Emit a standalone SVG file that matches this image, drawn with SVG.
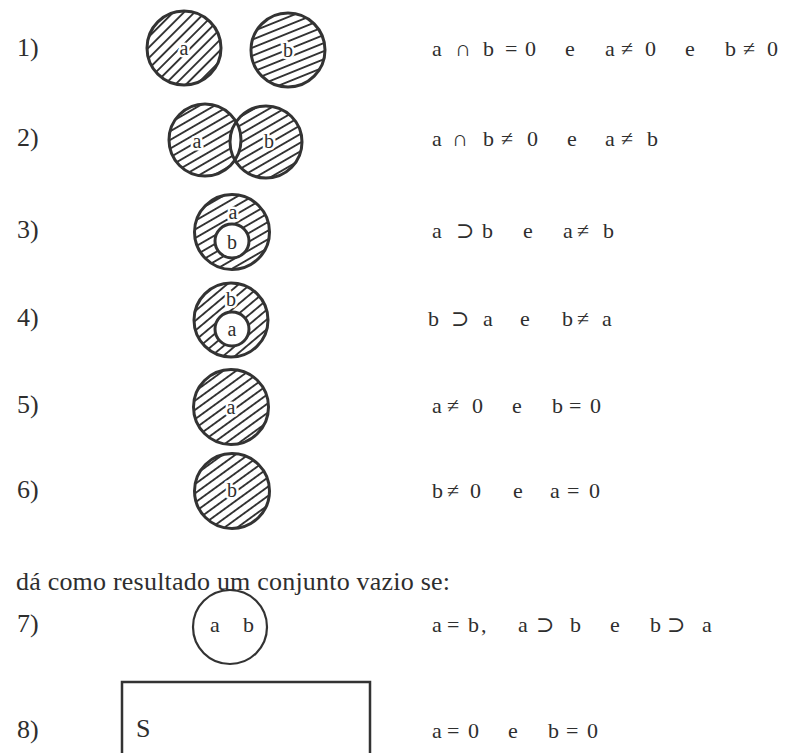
<svg xmlns="http://www.w3.org/2000/svg" width="787" height="753" viewBox="0 0 787 753">
<style>
text{font-family:"Liberation Serif","DejaVu Serif",serif;fill:#2e2e2e}
.lbl{font-size:26px}
.f{font-size:22px}
.in{font-size:20px;text-anchor:middle;stroke:#fff;stroke-width:5;paint-order:stroke;stroke-linejoin:round}
.c{stroke:#333;stroke-width:3}
.o{fill:none;stroke:#333;stroke-width:3}
</style>
<defs>
<pattern id="h45" width="7.5" height="7.5" patternUnits="userSpaceOnUse" patternTransform="rotate(-45)"><rect y="2.8" width="7.5" height="1.9" fill="#333"/></pattern>
<pattern id="h22" width="7.5" height="7.5" patternUnits="userSpaceOnUse" patternTransform="rotate(-22)"><rect y="2.8" width="7.5" height="1.9" fill="#333"/></pattern>
<pattern id="h30" width="7.5" height="7.5" patternUnits="userSpaceOnUse" patternTransform="rotate(-30)"><rect y="2.8" width="7.5" height="1.9" fill="#333"/></pattern>
<pattern id="h35" width="7.5" height="7.5" patternUnits="userSpaceOnUse" patternTransform="rotate(-36)"><rect y="2.8" width="7.5" height="1.9" fill="#333"/></pattern>
<pattern id="h40" width="7.5" height="7.5" patternUnits="userSpaceOnUse" patternTransform="rotate(-40)"><rect y="2.8" width="7.5" height="1.9" fill="#333"/></pattern>
<clipPath id="clipB2"><circle cx="266" cy="142" r="36"/></clipPath>
</defs>
<rect width="787" height="753" fill="#fff"/>

<g id="labels" class="lbl">
<text x="17" y="56">1)</text>
<text x="17" y="146">2)</text>
<text x="17" y="238">3)</text>
<text x="17" y="326">4)</text>
<text x="17" y="413">5)</text>
<text x="17" y="498">6)</text>
<text x="17" y="632">7)</text>
<text x="17" y="738">8)</text>
</g>

<g id="row1">
<circle class="c" cx="184" cy="48" r="37" fill="url(#h45)"/>
<circle class="c" cx="288" cy="50" r="37" fill="url(#h22)"/>
<text class="in" x="184" y="55">a</text>
<text class="in" x="288" y="57">b</text>
</g>

<g id="row2">
<circle cx="205" cy="140" r="36" fill="url(#h30)"/>
<circle cx="266" cy="142" r="36" fill="url(#h30)"/>
<circle cx="205" cy="140" r="36" fill="#fff" clip-path="url(#clipB2)"/>
<circle class="o" cx="205" cy="140" r="36"/>
<circle class="o" cx="266" cy="142" r="36"/>
<text class="in" x="197" y="148">a</text>
<text class="in" x="269" y="148">b</text>
</g>

<g id="row3">
<circle class="c" cx="232" cy="232" r="37.5" fill="url(#h30)"/>
<circle class="c" cx="232" cy="241" r="17" fill="#fff" stroke-width="2.5"/>
<text class="in" x="233" y="219">a</text>
<text class="in" x="232" y="249">b</text>
</g>

<g id="row4">
<circle class="c" cx="231" cy="320" r="37" fill="url(#h40)"/>
<circle class="c" cx="232" cy="329" r="17" fill="#fff" stroke-width="2.5"/>
<text class="in" x="231" y="306">b</text>
<text class="in" x="232" y="336">a</text>
</g>

<g id="row5">
<circle class="c" cx="231" cy="407" r="37.5" fill="url(#h35)"/>
<text class="in" x="231" y="414">a</text>
</g>

<g id="row6">
<circle class="c" cx="232" cy="491" r="37.5" fill="url(#h35)"/>
<text class="in" x="232" y="497">b</text>
</g>

<text class="lbl" x="16" y="590" textLength="434" lengthAdjust="spacing">dá como resultado um conjunto vazio se:</text>

<g id="row7">
<circle cx="230" cy="627" r="37" fill="none" stroke="#333" stroke-width="2.2"/>
<text class="f" x="210 243" y="632">ab</text>
</g>

<g id="row8">
<path d="M122 760 V682 H370 V760" fill="none" stroke="#333" stroke-width="2.5"/>
<text class="lbl" x="136" y="737">S</text>
</g>

<g id="formulas" class="f">
<text x="432 445 455 470 483 497 505 517 525 540 565 580 605 615 621 634 645 660 685 700 725 738 743 756 767" y="56">a ∩ b = 0 e a ≠ 0 e b ≠ 0</text>
<text x="432 445 452 470 483 497 501 515 527 545 567 585 605 617 621 636 647" y="146">a ∩ b ≠ 0 e a ≠ b</text>
<text x="432 445 456 472 482 497 523 537 563 574 577 592 603" y="238">a ⊃ b e a ≠ b</text>
<text x="428 441 451 468 483 495 520 534 562 574 577 591 602" y="326">b ⊃ a e b ≠ a</text>
<text x="432 443 447 462 472 487 512 526 552 564 569 583 590" y="413">a ≠ 0 e b = 0</text>
<text x="432 444 447 462 470 485 513 527 550 561 567 581 589" y="498">b ≠ 0 e a = 0</text>
<text x="432 443 447 461 468 481 487 518 530 536 553 570 583 610 624 650 663 667 685 702" y="632">a = b, a ⊃ b e b ⊃ a</text>
<text x="432 443 447 461 468 483 508 522 548 561 566 580 587" y="738">a = 0 e b = 0</text>
</g>
</svg>
